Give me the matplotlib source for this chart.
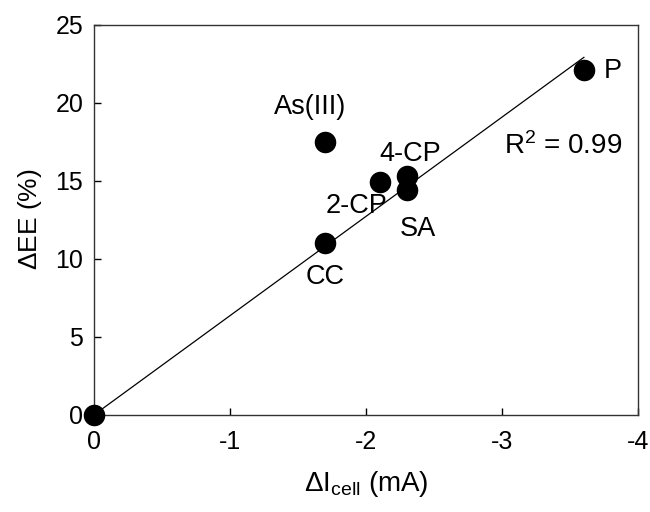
import matplotlib
matplotlib.use('Agg')
import matplotlib.pyplot as plt

plt.rcParams['font.family'] = ['Liberation Sans', 'DejaVu Sans']
plt.rcParams['mathtext.fontset'] = 'custom'
plt.rcParams['mathtext.rm'] = 'Liberation Sans'
plt.rcParams['mathtext.it'] = 'Liberation Sans:italic'

# data
d_icell = [0, -1.7, -1.7, -2.1, -2.3, -2.3, -3.6]
d_ee = [0, 11.0, 17.5, 14.9, 15.3, 14.4, 22.1]
names = ['', 'CC', 'As(III)', '2-CP', '4-CP', 'SA', 'P']
# label positions (data coords)
label_x = [0, -1.70, -1.59, -1.93, -2.32, -2.38, -3.81]
label_y = [0, 8.8, 19.7, 13.4, 16.7, 11.9, 22.0]

fit_x = [0, -3.6]
fit_y = [0, 22.9]

fig = plt.figure(figsize=(6.5, 5.12), dpi=100)
ax = fig.add_axes([0.145, 0.19, 0.837, 0.762])

ax.plot(fit_x, fit_y, color='black', linewidth=0.9, zorder=2)
ax.plot(d_icell, d_ee, 'o', color='black', markersize=14.5, zorder=3, clip_on=False)

for n, lx, ly in zip(names, label_x, label_y):
    if n:
        ax.text(lx, ly, n, ha='center', va='center', fontsize=19.5)

ax.text(-3.45, 17.2, r'R$^2$ = 0.99', ha='center', va='center', fontsize=20)

ax.set_xlim(0, -4)
ax.set_ylim(0, 25)
ax.set_xticks([0, -1, -2, -3, -4])
ax.set_xticklabels(['0', '-1', '-2', '-3', '-4'])
ax.set_yticks([0, 5, 10, 15, 20, 25])
ax.tick_params(direction='in', length=5, width=1, labelsize=18, pad=11)
ax.tick_params(axis='y', pad=8)
for s in ax.spines.values():
    s.set_linewidth(1)
    s.set_color('#333333')

ax.set_xlabel(r'$\Delta$I$_{\rm cell}$ (mA)', fontsize=20, labelpad=11)
ax.set_ylabel(r'$\Delta$EE (%)', fontsize=19, labelpad=8)

fig.savefig('out.png', dpi=100)
plt.close()
